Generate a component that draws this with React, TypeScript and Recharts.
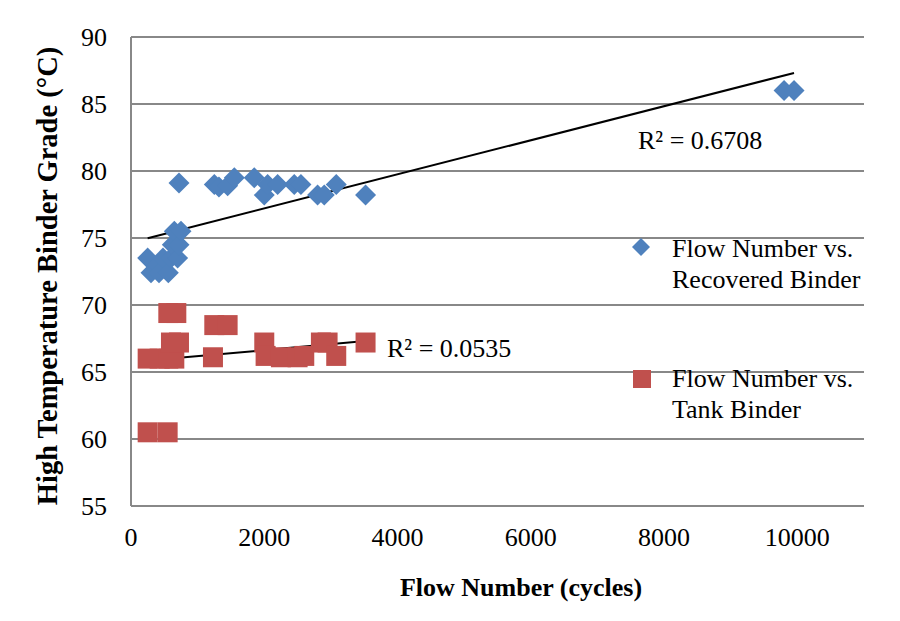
import {
  ComposedChart,
  Scatter,
  XAxis,
  YAxis,
  CartesianGrid,
  ReferenceLine,
} from "recharts";

// Flow Number vs. Recovered Binder
const recoveredFlow = [
  250, 300, 400, 420, 480, 560, 600, 620, 650, 700, 720, 750, 720, 1250, 1320,
  1450, 1550, 1850, 2000, 2050, 2200, 2450, 2550, 2800, 2900, 3080, 3520, 9800,
  9950,
];
const recoveredGrade = [
  73.5, 72.4, 73.0, 72.4, 73.5, 72.4, 73.5, 74.5, 75.5, 73.5, 74.5, 75.5, 79.1,
  79.0, 78.8, 78.9, 79.5, 79.5, 78.2, 79.0, 79.0, 79.0, 79.0, 78.2, 78.2, 79.0,
  78.2, 86.0, 86.0,
];

// Flow Number vs. Tank Binder
const tankFlow = [
  250, 430, 560, 650, 600, 720, 560, 680, 1250, 1450, 1230, 2000, 2020, 2250,
  2500, 2600, 2850, 2950, 3080, 3520, 250, 550,
];
const tankGrade = [
  66.0, 66.0, 66.0, 66.0, 67.2, 67.2, 69.4, 69.4, 68.5, 68.5, 66.1, 67.2, 66.2,
  66.1, 66.1, 66.2, 67.2, 67.2, 66.2, 67.2, 60.5, 60.5,
];

const xTicks = [0, 2000, 4000, 6000, 8000, 10000];
const yTicks = [55, 60, 65, 70, 75, 80, 85, 90];

const recoveredR2 = "R² = 0.6708";
const tankR2 = "R² = 0.0535";

const BLUE = "#4F81BD";
const RED = "#C0504D";
const GRID = "#888888";
const FONT = '"Liberation Serif", "Times New Roman", serif';

const toPoints = (xs: number[], ys: number[]) =>
  xs.map((x, i) => ({ x, y: ys[i] }));

// least squares line over the data's x range, like Excel's linear trendline
function trend(xs: number[], ys: number[]) {
  const n = xs.length;
  const mx = xs.reduce((a, b) => a + b, 0) / n;
  const my = ys.reduce((a, b) => a + b, 0) / n;
  let sxy = 0;
  let sxx = 0;
  xs.forEach((x, i) => {
    sxy += (x - mx) * (ys[i] - my);
    sxx += (x - mx) * (x - mx);
  });
  const slope = sxy / sxx;
  const b = my - slope * mx;
  const x0 = Math.min(...xs);
  const x1 = Math.max(...xs);
  return [
    { x: x0, y: b + slope * x0 },
    { x: x1, y: b + slope * x1 },
  ];
}

const Diamond = (props: any) => {
  const { cx, cy } = props;
  const r = 10.5;
  return (
    <polygon
      points={`${cx},${cy - r} ${cx + r},${cy} ${cx},${cy + r} ${cx - r},${cy}`}
      fill={BLUE}
    />
  );
};

const Square = (props: any) => {
  const { cx, cy } = props;
  const s = 10;
  return (
    <rect x={cx - s} y={cy - s} width={s * 2} height={s * 2} fill={RED} />
  );
};

const textStyle = {
  position: "absolute" as const,
  fontFamily: FONT,
  fontSize: 26,
  color: "#000",
  whiteSpace: "nowrap" as const,
  lineHeight: "31px",
};

const tickStyle = { fontFamily: FONT, fontSize: 26, fill: "#000" };

export default function App() {
  const recovered = toPoints(recoveredFlow, recoveredGrade);
  const tank = toPoints(tankFlow, tankGrade);
  const recoveredTrend = trend(recoveredFlow, recoveredGrade);
  const tankTrend = trend(tankFlow, tankGrade);

  return (
    <div
      style={{
        position: "relative",
        width: 900,
        height: 621,
        margin: -8,
        overflow: "hidden",
        background: "#fff",
      }}
    >
      <div
        style={{
          position: "absolute",
          left: 5,
          top: 7,
          width: 920,
          height: 700,
          border: "1.5px solid #8c8c8c",
        }}
      />
      <ComposedChart
        width={900}
        height={621}
        margin={{ top: 37, right: 36, left: 0, bottom: 0 }}
        style={{ position: "absolute", left: 0, top: 0 }}
      >
        <CartesianGrid vertical={false} stroke={GRID} strokeWidth={2} />
        <XAxis
          type="number"
          dataKey="x"
          domain={[0, 11000]}
          ticks={xTicks}
          height={115}
          axisLine={false}
          tickLine={false}
          tickSize={0}
          tickMargin={22}
          tick={tickStyle}
        />
        <YAxis
          type="number"
          dataKey="y"
          domain={[55, 90]}
          ticks={yTicks}
          width={131}
          axisLine={{ stroke: GRID, strokeWidth: 2 }}
          tickLine={false}
          tickSize={0}
          tickMargin={24}
          tick={tickStyle}
        />
        <Scatter
          name="Flow Number vs. Tank Binder"
          data={tank}
          shape={Square}
          isAnimationActive={false}
        />
        <Scatter
          name="Flow Number vs. Recovered Binder"
          data={recovered}
          shape={Diamond}
          isAnimationActive={false}
        />
        <ReferenceLine
          segment={recoveredTrend}
          stroke="#000"
          strokeWidth={2}
          ifOverflow="visible"
        />
        <ReferenceLine
          segment={tankTrend}
          stroke="#000"
          strokeWidth={2}
          ifOverflow="visible"
        />
      </ComposedChart>

      <div style={{ ...textStyle, left: 638, top: 125 }}>{recoveredR2}</div>
      <div style={{ ...textStyle, left: 387, top: 333 }}>{tankR2}</div>

      {/* legend */}
      <svg
        width={20}
        height={20}
        style={{ position: "absolute", left: 631, top: 237 }}
      >
        <polygon points="10,1 19,10 10,19 1,10" fill={BLUE} />
      </svg>
      <div style={{ ...textStyle, left: 672, top: 233 }}>
        Flow Number vs.
        <br />
        Recovered Binder
      </div>
      <svg
        width={20}
        height={20}
        style={{ position: "absolute", left: 632, top: 369 }}
      >
        <rect x={1} y={1} width={18} height={18} fill={RED} />
      </svg>
      <div style={{ ...textStyle, left: 672, top: 363 }}>
        Flow Number vs.
        <br />
        Tank Binder
      </div>

      {/* axis titles */}
      <div
        style={{
          ...textStyle,
          fontWeight: "bold",
          left: 521,
          top: 572,
          transform: "translateX(-50%)",
        }}
      >
        Flow Number (cycles)
      </div>
      <div
        style={{
          ...textStyle,
          fontSize: 28.5,
          fontWeight: "bold",
          left: 47,
          top: 276,
          transform: "translate(-50%, -50%) rotate(-90deg)",
        }}
      >
        High Temperature Binder Grade (°C)
      </div>
    </div>
  );
}
